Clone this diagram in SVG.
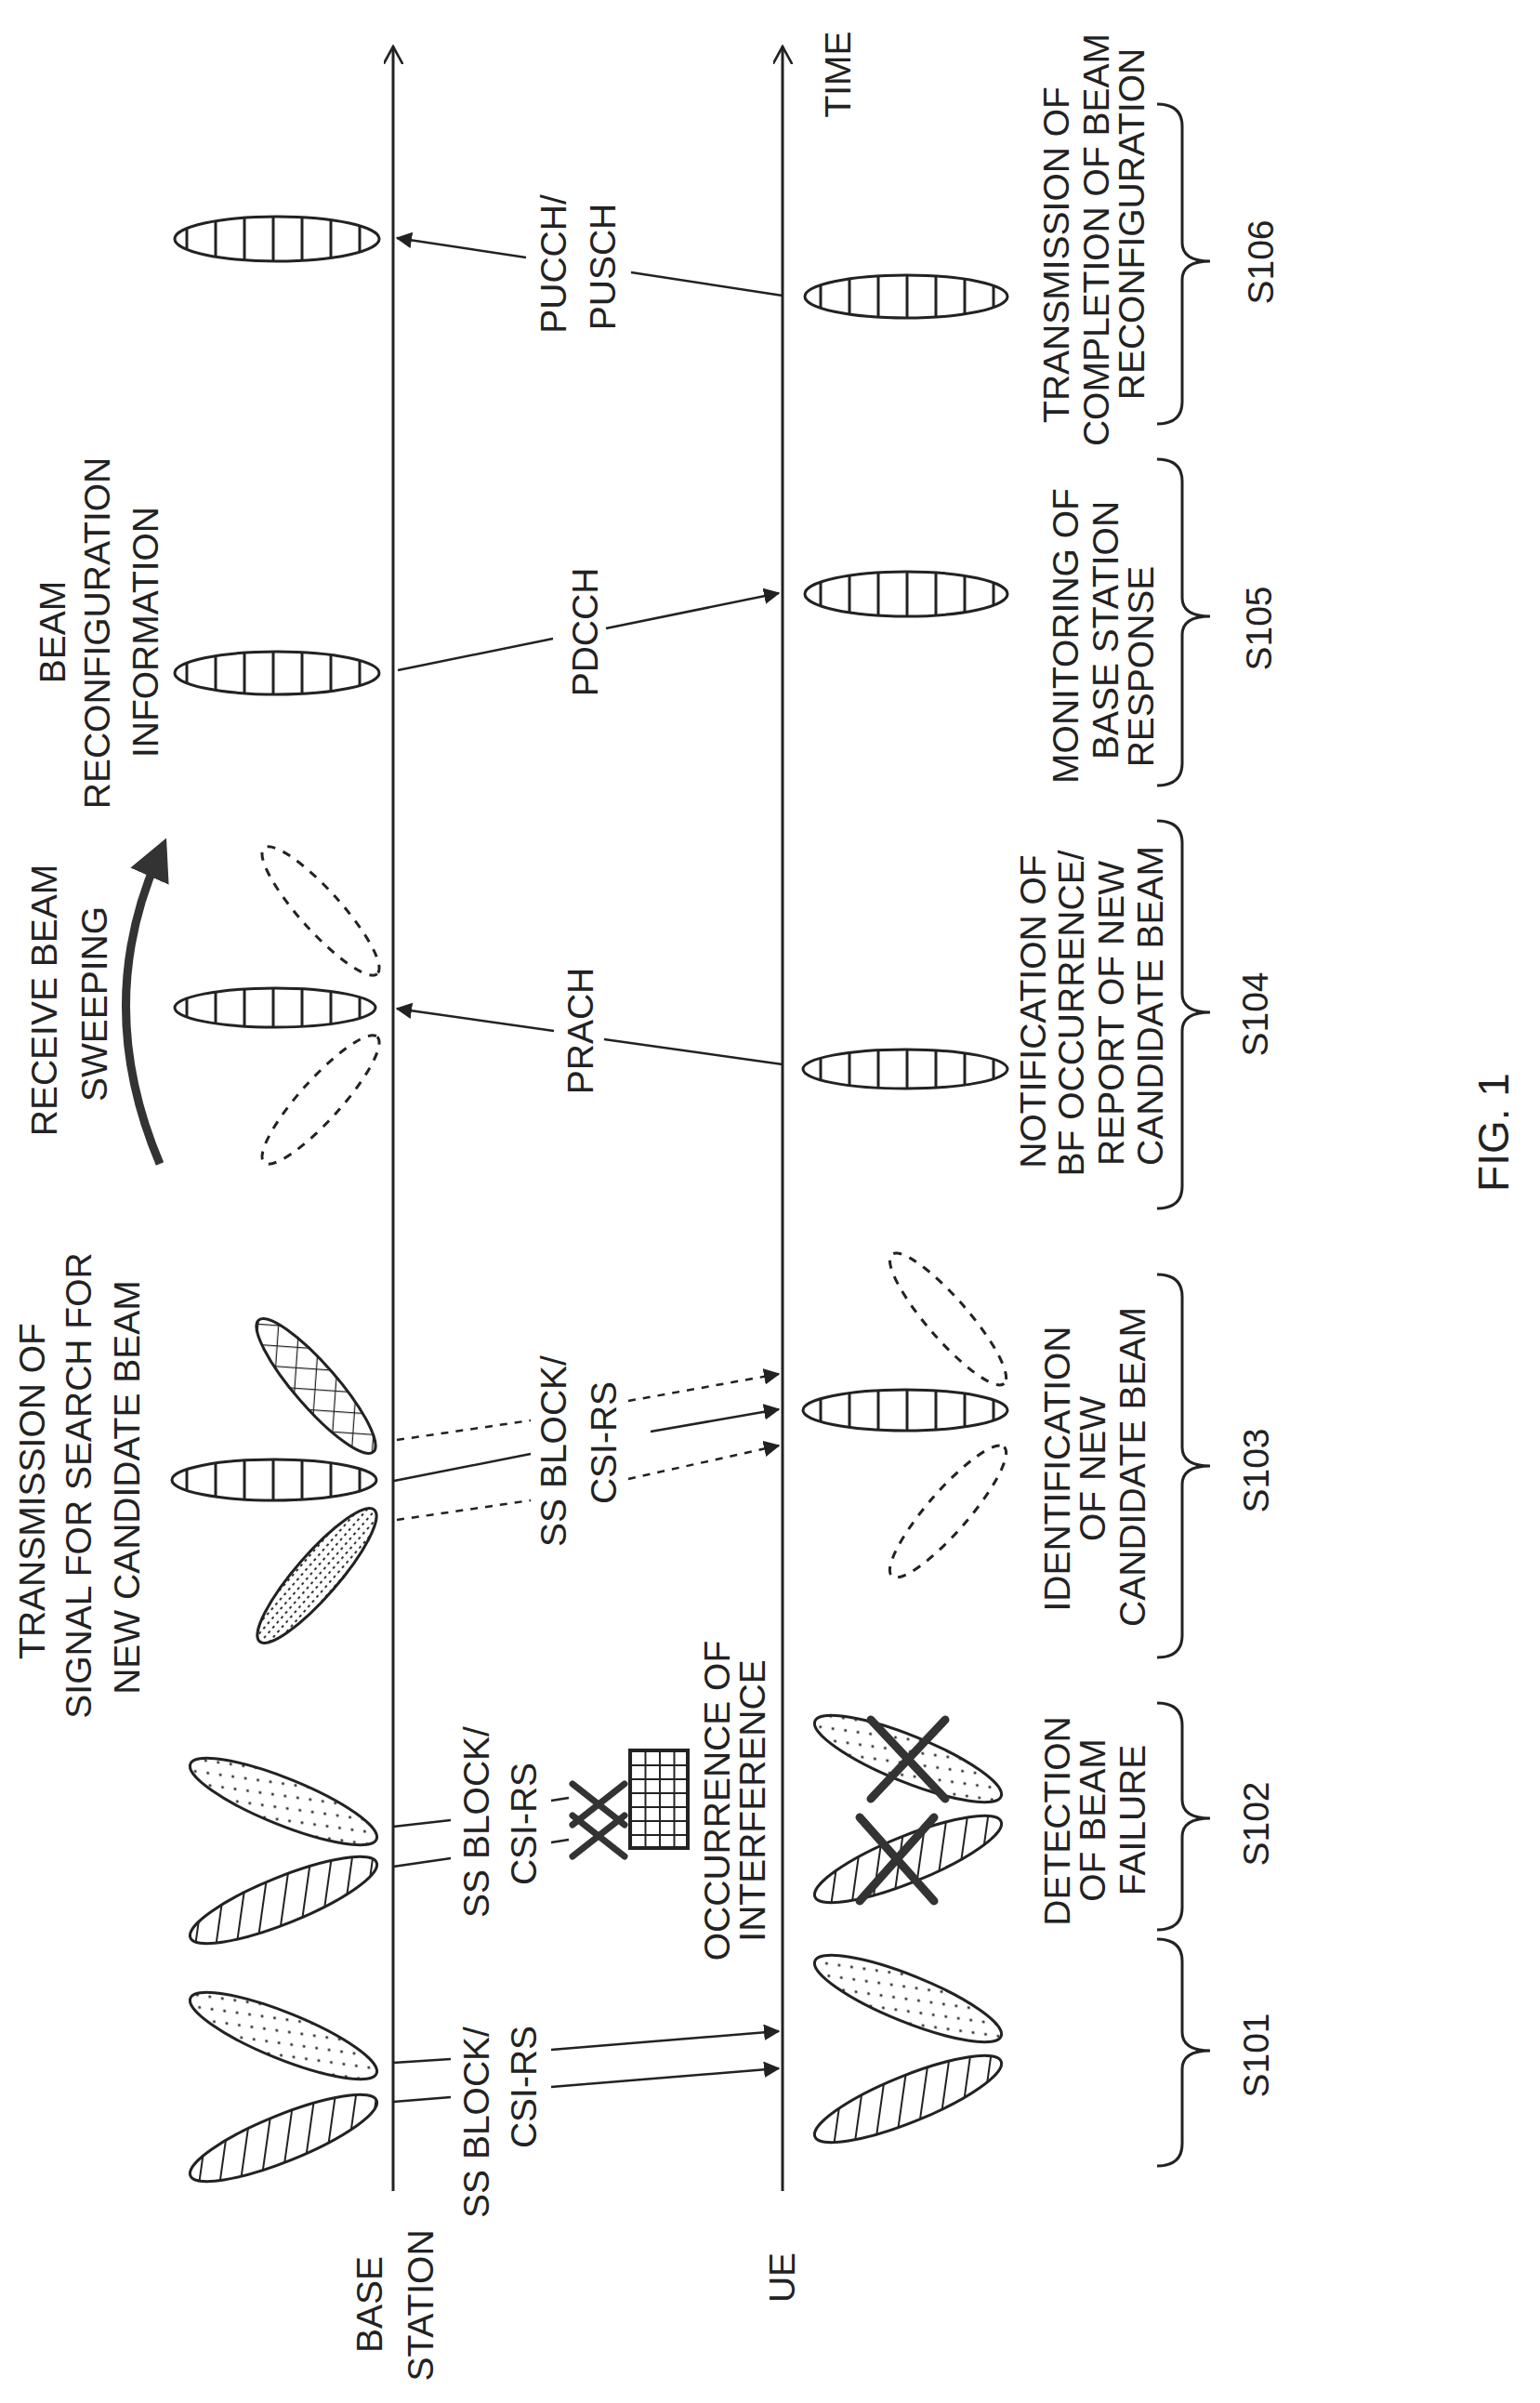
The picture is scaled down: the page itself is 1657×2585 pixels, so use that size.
<svg xmlns="http://www.w3.org/2000/svg" width="1657" height="2585" viewBox="0 0 1657 2585">
<style>
text{font-family:"Liberation Sans",Arial,sans-serif;font-size:39px;fill:#222;text-anchor:middle}
.b{stroke:#222;stroke-width:3}
.br{fill:none;stroke:#222;stroke-width:3}
.d{fill:none;stroke:#222;stroke-width:3;stroke-dasharray:9 9}
.ln{fill:none;stroke:#222;stroke-width:2.5}
.ax{fill:none;stroke:#222;stroke-width:3}
.x{stroke:#333;stroke-width:9;stroke-linecap:round}
</style>
<defs>
<marker id="ah" viewBox="0 0 12 12" refX="11" refY="6" markerWidth="7" markerHeight="7" markerUnits="strokeWidth" orient="auto"><path d="M0,0L12,6L0,12z" fill="#222"/></marker>
<marker id="open" viewBox="0 0 12 12" refX="11" refY="6" markerWidth="7" markerHeight="7" markerUnits="strokeWidth" orient="auto"><path d="M0,0L11,6L0,12" fill="none" stroke="#222" stroke-width="1.5"/></marker>
<marker id="big" viewBox="0 0 12 12" refX="6" refY="6" markerWidth="5" markerHeight="5" orient="auto"><path d="M0,0L12,6L0,12z" fill="#333"/></marker>
<pattern id="vs" patternUnits="userSpaceOnUse" width="31" height="10"><line x1="15" y1="0" x2="15" y2="10" stroke="#222" stroke-width="3"/></pattern>
<pattern id="hat" patternUnits="userSpaceOnUse" width="22" height="22" patternTransform="rotate(30)"><line x1="11" y1="0" x2="11" y2="22" stroke="#222" stroke-width="2"/></pattern>
<pattern id="dot" patternUnits="userSpaceOnUse" width="22" height="16" patternTransform="rotate(22)"><circle cx="5" cy="5" r="1.6" fill="#333"/><circle cx="16" cy="13" r="1.6" fill="#333"/></pattern>
<pattern id="stip" patternUnits="userSpaceOnUse" width="7" height="7"><rect x="1" y="1" width="3" height="2" fill="#333"/></pattern>
<pattern id="xh" patternUnits="userSpaceOnUse" width="22" height="22" patternTransform="rotate(45)"><path d="M0,0H22M0,0V22" stroke="#222" stroke-width="2.5" fill="none"/></pattern>
<pattern id="grid" patternUnits="userSpaceOnUse" x="678" y="1883" width="15.5" height="15"><path d="M0,0H15.5M0,0V15" stroke="#222" stroke-width="4" fill="none"/></pattern>
</defs>

<g id="axes">
<line class="ax" x1="423" y1="2357" x2="423" y2="50" marker-end="url(#open)"/>
<line class="ax" x1="842" y1="2357" x2="842" y2="50" marker-end="url(#open)"/>
<text transform="translate(466,2480) rotate(-90)">STATION</text>
<text transform="translate(411,2479) rotate(-90)">BASE</text>
<text transform="translate(855,2450) rotate(-90)">UE</text>
<text transform="translate(915,80) rotate(-90)">TIME</text>
</g>

<g id="s101">
<ellipse cx="305" cy="2300" rx="108" ry="25" transform="rotate(-22 305 2300)" fill="url(#hat)" class="b"/>
<ellipse cx="305" cy="2190" rx="108" ry="25" transform="rotate(22 305 2190)" fill="url(#dot)" class="b"/>
<ellipse cx="977" cy="2258" rx="108" ry="25" transform="rotate(-22 977 2258)" fill="url(#hat)" class="b"/>
<ellipse cx="977" cy="2150" rx="108" ry="25" transform="rotate(22 977 2150)" fill="url(#dot)" class="b"/>
<text transform="translate(526,2283) rotate(-90)">SS BLOCK/</text>
<text transform="translate(577,2245) rotate(-90)">CSI-RS</text>
<path class="br" d="M1245,2086 Q1272,2086 1272,2110 L1272,2186 Q1272,2206 1302,2206 Q1272,2206 1272,2226 L1272,2306 Q1272,2330 1245,2330"/>
<text transform="translate(1365,2211) rotate(-90)">S101</text>
</g>

<g id="s102">
<ellipse cx="305" cy="2044" rx="108" ry="25" transform="rotate(-22 305 2044)" fill="url(#hat)" class="b"/>
<ellipse cx="305" cy="1938" rx="108" ry="25" transform="rotate(22 305 1938)" fill="url(#dot)" class="b"/>
<ellipse cx="977" cy="2000" rx="108" ry="25" transform="rotate(-22 977 2000)" fill="url(#hat)" class="b"/>
<ellipse cx="977" cy="1892" rx="108" ry="25" transform="rotate(22 977 1892)" fill="url(#dot)" class="b"/>
<line class="x" x1="937" y1="1850" x2="1017" y2="1935"/><line class="x" x1="1017" y1="1850" x2="937" y2="1935"/>
<line class="x" x1="925" y1="1955" x2="1005" y2="2045"/><line class="x" x1="1005" y1="1955" x2="925" y2="2045"/>
<text transform="translate(526,1960) rotate(-90)">SS BLOCK/</text>
<text transform="translate(577,1962) rotate(-90)">CSI-RS</text>
<line class="x" x1="616" y1="1919" x2="672" y2="1963" style="stroke-width:7"/><line class="x" x1="672" y1="1919" x2="616" y2="1963" style="stroke-width:7"/>
<line class="x" x1="616" y1="1953" x2="672" y2="1997" style="stroke-width:7"/><line class="x" x1="672" y1="1953" x2="616" y2="1997" style="stroke-width:7"/>
<rect x="678" y="1883" width="62" height="105" fill="url(#grid)" stroke="#222" stroke-width="4"/>
<text transform="translate(785,1937) rotate(-90)">OCCURRENCE OF</text>
<text transform="translate(823,1937) rotate(-90)">INTERFERENCE</text>
<text transform="translate(1151,1959) rotate(-90)">DETECTION</text>
<text transform="translate(1189,1958) rotate(-90)">OF BEAM</text>
<text transform="translate(1232,1958) rotate(-90)">FAILURE</text>
<path class="br" d="M1245,1832 Q1272,1832 1272,1856 L1272,1936 Q1272,1956 1302,1956 Q1272,1956 1272,1976 L1272,2052 Q1272,2076 1245,2076"/>
<text transform="translate(1365,1962) rotate(-90)">S102</text>
</g>

<g id="s103">
<ellipse cx="340" cy="1491" rx="94" ry="23" transform="rotate(49 340 1491)" fill="url(#xh)" class="b"/>
<ellipse cx="295" cy="1592" rx="110" ry="22" fill="url(#vs)" class="b"/>
<ellipse cx="341" cy="1695" rx="94" ry="23" transform="rotate(-49 341 1695)" fill="url(#stip)" class="b"/>
<ellipse cx="974" cy="1517" rx="110" ry="22" fill="url(#vs)" class="b"/>
<ellipse cx="1020" cy="1419" rx="92" ry="22" transform="rotate(49 1020 1419)" class="d"/>
<ellipse cx="1020" cy="1626" rx="92" ry="22" transform="rotate(-49 1020 1626)" class="d"/>
<text transform="translate(48,1604) rotate(-90)">TRANSMISSION OF</text>
<text transform="translate(98,1598) rotate(-90)">SIGNAL FOR SEARCH FOR</text>
<text transform="translate(150,1600) rotate(-90)">NEW CANDIDATE BEAM</text>
<text transform="translate(609,1561) rotate(-90)">SS BLOCK/</text>
<text transform="translate(663,1552) rotate(-90)">CSI-RS</text>
<text transform="translate(1151,1580) rotate(-90)">IDENTIFICATION</text>
<text transform="translate(1189,1580) rotate(-90)">OF NEW</text>
<text transform="translate(1232,1578) rotate(-90)">CANDIDATE BEAM</text>
<path class="br" d="M1245,1371 Q1272,1371 1272,1395 L1272,1557 Q1272,1577 1302,1577 Q1272,1577 1272,1597 L1272,1759 Q1272,1783 1245,1783"/>
<text transform="translate(1365,1582) rotate(-90)">S103</text>
</g>

<g id="s104">
<path d="M172,1252 Q100,1082 170,922" fill="none" stroke="#333" stroke-width="9" marker-end="url(#big)"/>
<text transform="translate(61,1076) rotate(-90)">RECEIVE BEAM</text>
<text transform="translate(115,1080) rotate(-90)">SWEEPING</text>
<ellipse cx="345" cy="980" rx="91" ry="22" transform="rotate(48 345 980)" class="d"/>
<ellipse cx="296" cy="1084" rx="108" ry="21" fill="url(#vs)" class="b"/>
<ellipse cx="345" cy="1183" rx="91" ry="22" transform="rotate(-48 345 1183)" class="d"/>
<ellipse cx="974" cy="1150" rx="110" ry="21" fill="url(#vs)" class="b"/>
<text transform="translate(638,1109) rotate(-90)">PRACH</text>
<text transform="translate(1125,1088) rotate(-90)">NOTIFICATION OF</text>
<text transform="translate(1166,1090) rotate(-90)">BF OCCURRENCE/</text>
<text transform="translate(1209,1090) rotate(-90)">REPORT OF NEW</text>
<text transform="translate(1251,1082) rotate(-90)">CANDIDATE BEAM</text>
<path class="br" d="M1245,883 Q1272,883 1272,907 L1272,1069 Q1272,1089 1302,1089 Q1272,1089 1272,1109 L1272,1276 Q1272,1300 1245,1300"/>
<text transform="translate(1364,1091) rotate(-90)">S104</text>
</g>

<g id="s105">
<ellipse cx="298" cy="724" rx="110" ry="23" fill="url(#vs)" class="b"/>
<ellipse cx="975" cy="639" rx="109" ry="24" fill="url(#vs)" class="b"/>
<text transform="translate(70,680) rotate(-90)">BEAM</text>
<text transform="translate(118,681) rotate(-90)">RECONFIGURATION</text>
<text transform="translate(170,680) rotate(-90)">INFORMATION</text>
<text transform="translate(643,680) rotate(-90)">PDCCH</text>
<text transform="translate(1160,684) rotate(-90)">MONITORING OF</text>
<text transform="translate(1203,678) rotate(-90)">BASE STATION</text>
<text transform="translate(1241,717) rotate(-90)">RESPONSE</text>
<path class="br" d="M1245,494 Q1272,494 1272,518 L1272,643 Q1272,663 1302,663 Q1272,663 1272,683 L1272,821 Q1272,845 1245,845"/>
<text transform="translate(1368,676) rotate(-90)">S105</text>
</g>

<g id="s106">
<ellipse cx="298" cy="257" rx="110" ry="24" fill="url(#vs)" class="b"/>
<ellipse cx="975" cy="319" rx="109" ry="23" fill="url(#vs)" class="b"/>
<text transform="translate(609,284) rotate(-90)">PUCCH/</text>
<text transform="translate(662,287) rotate(-90)">PUSCH</text>
<text transform="translate(1150,274) rotate(-90)">TRANSMISSION OF</text>
<text transform="translate(1193,258) rotate(-90)">COMPLETION OF BEAM</text>
<text transform="translate(1231,241) rotate(-90)">RECONFIGURATION</text>
<path class="br" d="M1245,112 Q1272,112 1272,136 L1272,261 Q1272,281 1302,281 Q1272,281 1272,301 L1272,432 Q1272,456 1245,456"/>
<text transform="translate(1370,282) rotate(-90)">S106</text>
</g>

<g id="fig">
<text transform="translate(1623,1218) rotate(-90)" style="font-size:46px">FIG. 1</text>
</g>

<g id="connectors">
<line class="ln" x1="423" y1="2261" x2="485" y2="2256"/>
<line class="ln" x1="593" y1="2245" x2="838" y2="2225" marker-end="url(#ah)"/>
<line class="ln" x1="423" y1="2219" x2="485" y2="2215"/>
<line class="ln" x1="593" y1="2205" x2="838" y2="2185" marker-end="url(#ah)"/>
<line class="ln" x1="423" y1="2008" x2="485" y2="1999"/>
<line class="ln" x1="593" y1="1982" x2="612" y2="1979"/>
<line class="ln" x1="423" y1="1965" x2="485" y2="1958"/>
<line class="ln" x1="593" y1="1937" x2="612" y2="1934"/>
<line class="ln" x1="424" y1="1593" x2="571" y2="1564"/>
<line class="ln" x1="700" y1="1540" x2="838" y2="1516" marker-end="url(#ah)"/>
<line class="ln" x1="427" y1="1549" x2="571" y2="1528" stroke-dasharray="8 8"/>
<line class="ln" x1="676" y1="1507" x2="838" y2="1478" stroke-dasharray="8 8" marker-end="url(#ah)"/>
<line class="ln" x1="427" y1="1635" x2="571" y2="1614" stroke-dasharray="8 8"/>
<line class="ln" x1="676" y1="1591" x2="838" y2="1555" stroke-dasharray="8 8" marker-end="url(#ah)"/>
<line class="ln" x1="842" y1="1145" x2="650" y2="1118"/>
<line class="ln" x1="596" y1="1109" x2="427" y2="1085" marker-end="url(#ah)"/>
<line class="ln" x1="428" y1="721" x2="595" y2="687"/>
<line class="ln" x1="652" y1="676" x2="838" y2="638" marker-end="url(#ah)"/>
<line class="ln" x1="842" y1="318" x2="679" y2="293"/>
<line class="ln" x1="566" y1="277" x2="427" y2="256" marker-end="url(#ah)"/>
</g>
</svg>
